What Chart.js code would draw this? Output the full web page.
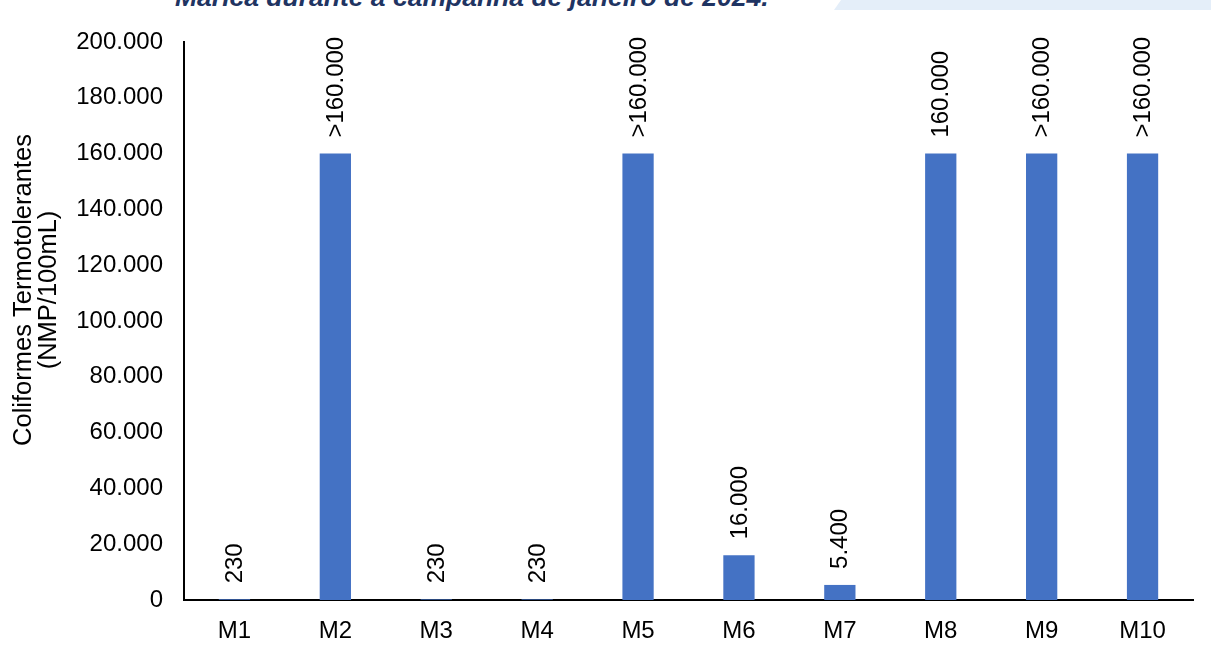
<!DOCTYPE html>
<html>
<head>
<meta charset="utf-8">
<script src="https://cdn.jsdelivr.net/npm/chart.js@4.4.1/dist/chart.umd.min.js"></script>
<style>
  html, body { margin: 0; padding: 0; background: #ffffff; }
  #wrap { position: relative; width: 1211px; height: 654px; overflow: hidden; }
  #bg { position: absolute; left: 0; top: 0; width: 1211px; height: 11px; }
  #title { position: absolute; left: 175px; top: -16.5px; font-family: "Liberation Sans", Arial, sans-serif;
           font-weight: bold; font-style: italic; font-size: 26.5px; color: #1f3462; white-space: nowrap; line-height: 26.5px; }
  canvas { position: absolute; left: 0; top: 0; }
</style>
</head>
<body>
<div id="wrap">
  <svg id="bg" width="1211" height="11"><polygon points="841,0 1211,0 1211,10 834,10" fill="#e4eef9"/></svg>
  <div id="title">Maricá durante a campanha de janeiro de 2024.</div>
  <canvas id="c" width="1211" height="654"></canvas>
</div>
<script>
const categories = ['M1', 'M2', 'M3', 'M4', 'M5', 'M6', 'M7', 'M8', 'M9', 'M10'];
const values = [230, 160000, 230, 230, 160000, 16000, 5400, 160000, 160000, 160000];
const valueLabels = ['230', '>160.000', '230', '230', '>160.000', '16.000', '5.400', '160.000', '>160.000', '>160.000'];
const yTicks = [0, 20000, 40000, 60000, 80000, 100000, 120000, 140000, 160000, 180000, 200000];
const yTitleLines = ['Coliformes Termotolerantes', '(NMP/100mL)'];

const FONT = '"Liberation Sans", Arial, sans-serif';

function fmt(v) {
  return v.toString().replace(/\B(?=(\d{3})+(?!\d))/g, '.');
}

const labelPlugin = {
  id: 'barLabels',
  afterDatasetsDraw(chart) {
    const ctx = chart.ctx;
    const meta = chart.getDatasetMeta(0);
    ctx.save();
    ctx.font = '24px ' + FONT;
    ctx.fillStyle = '#000000';
    ctx.textAlign = 'left';
    ctx.textBaseline = 'middle';
    meta.data.forEach((el, i) => {
      ctx.save();
      ctx.translate(el.x + 1, el.y - 16);
      ctx.rotate(-Math.PI / 2);
      ctx.fillText(valueLabels[i], 0, 0);
      ctx.restore();
    });
    ctx.restore();
  }
};

const yTitlePlugin = {
  id: 'yTitle',
  afterDraw(chart) {
    const ctx = chart.ctx;
    ctx.save();
    ctx.font = '25.5px ' + FONT;
    ctx.fillStyle = '#000000';
    ctx.textAlign = 'center';
    ctx.textBaseline = 'middle';
    const xs = [24, 49];
    yTitleLines.forEach((t, i) => {
      ctx.save();
      ctx.translate(xs[i], 290);
      ctx.rotate(-Math.PI / 2);
      ctx.fillText(t, 0, 0);
      ctx.restore();
    });
    ctx.restore();
  }
};

new Chart(document.getElementById('c'), {
  type: 'bar',
  data: {
    labels: categories,
    datasets: [{
      data: values,
      backgroundColor: '#4472c4',
      borderWidth: 0,
      barPercentage: 0.31,
      categoryPercentage: 1
    }]
  },
  options: {
    responsive: false,
    animation: false,
    devicePixelRatio: 1,
    layout: { padding: { top: 42, right: 18, bottom: 0, left: 0 } },
    plugins: { legend: { display: false }, tooltip: { enabled: false }, title: { display: false } },
    scales: {
      x: {
        grid: { display: false, drawTicks: false },
        border: { display: true, color: '#000000', width: 2 },
        ticks: { color: '#000000', font: { family: FONT, size: 24 }, padding: 17, maxRotation: 0 },
        afterFit(scale) { scale.height = 54; }
      },
      y: {
        min: 0, max: 200000,
        afterBuildTicks(scale) { scale.ticks = yTicks.map(v => ({ value: v })); },
        grid: { display: false, drawTicks: false },
        border: { display: true, color: '#000000', width: 2 },
        ticks: { color: '#000000', font: { family: FONT, size: 24 }, padding: 21,
                 callback: (v) => fmt(v) },
        afterFit(scale) { scale.width = 184; }
      }
    }
  },
  plugins: [labelPlugin, yTitlePlugin]
});
</script>
</body>
</html>
